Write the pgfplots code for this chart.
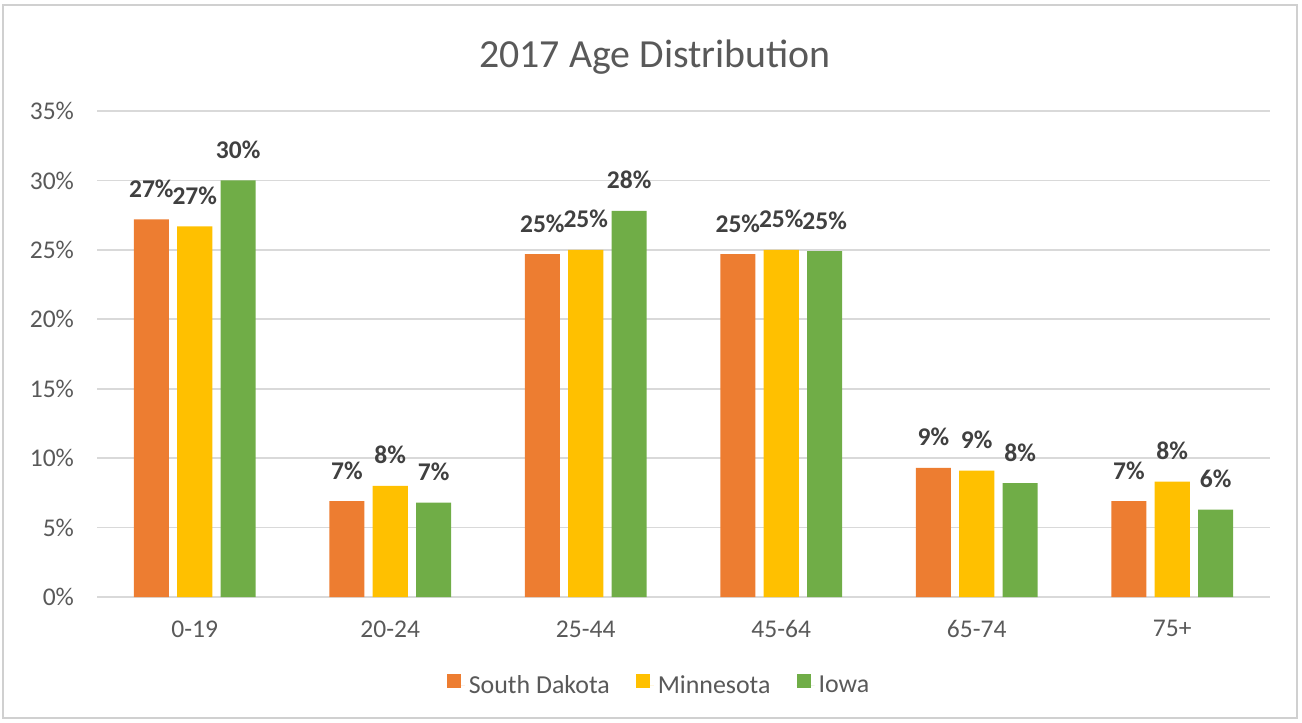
\documentclass[border=0pt]{standalone}
\usepackage{pgfplots}
\pgfplotsset{compat=1.18}
\usepackage{fontspec}
\setmainfont{Carlito}
\definecolor{sd}{HTML}{ED7D31}
\definecolor{mn}{HTML}{FFC000}
\definecolor{ia}{HTML}{70AD47}
\definecolor{txt}{HTML}{595959}
\definecolor{lbl}{HTML}{404040}
\definecolor{gridgray}{HTML}{D9D9D9}
\definecolor{frame}{HTML}{D0D0D0}
\begin{document}
\begin{tikzpicture}
\path[use as bounding box] (-48.5bp,-63bp) rectangle (602.5bp,298.5bp);
\draw[frame, line width=0.8bp] (-47bp,-60.5bp) rectangle (600bp,296bp);
\node[text=txt, font=\fontsize{20}{24}\selectfont] at (279bp,270bp) {2017 Age Distribution};
\begin{axis}[
  at={(0,0)}, anchor=south west, scale only axis,
  width=586.5bp, height=243bp,
  xmin=-0.5, xmax=5.5, ymin=0, ymax=35,
  /pgf/number format/assume math mode=true,
  xtick={0,...,5}, xticklabels={0-19,20-24,25-44,45-64,65-74,75+},
  ytick={0,5,...,35},
  yticklabel={\pgfmathprintnumber{\tick}\%},
  ymajorgrids, grid style={draw=gridgray, line width=0.8bp},
  axis line style={draw=none}, major tick style={draw=none},
  ticklabel style={font=\fontsize{12.8}{15}\selectfont, text=txt},
  yticklabel style={xshift=-8bp},
  xticklabel style={yshift=-4bp},
  ybar, bar width=0.18,
  nodes near coords={\pgfmathprintnumber[fixed,precision=0]{\pgfplotspointmeta}\%},
  every node near coord/.append style={font=\bfseries\fontsize{12.8}{15}\selectfont, text=lbl, anchor=base, yshift=11bp},
  legend style={at={(0.48,-0.183)}, anchor=center, draw=none, legend columns=3,
    font=\fontsize{13}{15}\selectfont, text=txt,
    /tikz/every even column/.append style={column sep=11bp}},
  legend image code/.code={\path (0bp,0bp) -- (9bp,0bp); \fill[#1] (0bp,-1bp) rectangle (7bp,6bp);},
]
\addplot[fill=sd, draw=none, bar shift=-0.222] coordinates {(0,27.2) (1,6.9) (2,24.7) (3,24.7) (4,9.3) (5,6.9)};
\addplot[fill=mn, draw=none, bar shift=0] coordinates {(0,26.7) (1,8.0) (2,25.0) (3,25.0) (4,9.1) (5,8.3)};
\addplot[fill=ia, draw=none, bar shift=0.222] coordinates {(0,30.0) (1,6.8) (2,27.8) (3,24.9) (4,8.2) (5,6.3)};
\legend{South Dakota, Minnesota, Iowa}
\end{axis}
\end{tikzpicture}
\end{document}
